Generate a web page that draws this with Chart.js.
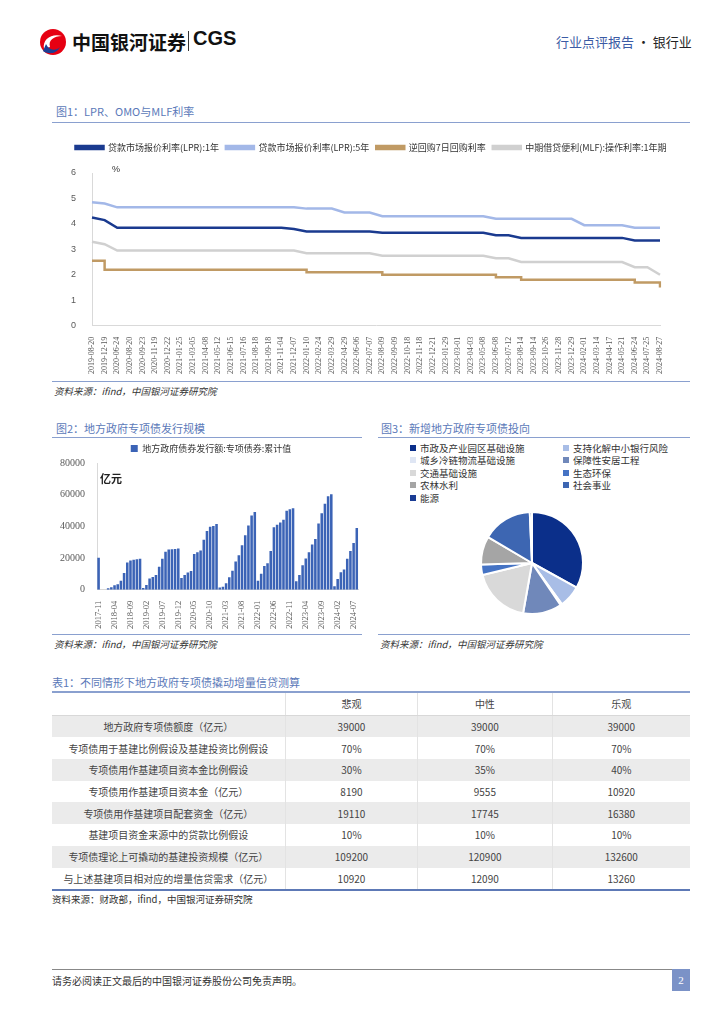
<!DOCTYPE html>
<html>
<head>
<meta charset="utf-8">
<script src="https://cdn.jsdelivr.net/npm/chart.js@4.4.1/dist/chart.umd.min.js"></script>
<style>
  body { margin: 0; width: 724px; height: 1024px; background: #fff; position: relative; overflow: hidden;
         font-family: "Noto Sans CJK SC", sans-serif; color: #333; }
  .abs { position: absolute; }
  .figtitle { font-size: 11px; color: #5b79b9; white-space: nowrap; }
  .rule { height: 0; border-top: 1.5px solid #8aa0cf; }
  .source { font-size: 9.5px; font-style: italic; color: #333; white-space: nowrap; }
  .box { position: absolute; }
  #pieLegend { font-size: 9.5px; color: #333; line-height: 12.4px; }
  #pieLegend .item { position: absolute; white-space: nowrap; }
  #pieLegend .sw { display: inline-block; width: 6px; height: 6px; margin-right: 4px; vertical-align: 1px; }
  table { border-collapse: collapse; font-size: 10px; color: #444; }
  td { height: 21.7px; padding: 0; text-align: center; border-left: 1px solid #e3e3e3; }
  td:first-child { border-left: none; }
  tr.gray td { background: #ebebeb; }
  tr.head td { border-bottom: 1px solid #d8d8d8; }
</style>
</head>
<body>

<!-- header -->
<svg class="abs" style="left:38px;top:27px" width="30" height="30" viewBox="0 0 30 30">
  <circle cx="15" cy="15" r="13" fill="#e60012"/>
  <path d="M6 22 C 4 12, 14 6, 24 9 C 16 9, 10 13, 12 20 Z" fill="#fff"/>
  <path d="M5 24 C 9 27, 18 28, 22 20 C 18 24, 11 24, 8 17 Z" fill="#1d3f95"/>
</svg>
<div class="abs" style="left:72px;top:28px;font-size:19px;font-weight:bold;color:#111;white-space:nowrap;">中国银河证券</div>
<div class="abs" style="left:188px;top:31px;width:1px;height:20px;background:#333;"></div>
<div class="abs" style="left:193px;top:27px;font-size:20px;font-weight:bold;color:#111;font-family:'Liberation Sans',sans-serif;">CGS</div>
<div class="abs" style="left:556px;top:32px;font-size:13px;white-space:nowrap;"><span style="color:#3b5ba5">行业点评报告</span><span style="color:#222"> · 银行业</span></div>

<!-- figure 1 -->
<div class="abs figtitle" style="left:56px;top:103px;">图1：LPR、OMO与MLF利率</div>
<div class="abs rule" style="left:52px;top:122px;width:638px;"></div>
<div class="box" style="left:52px;top:136px;width:638px;height:244px;"><canvas id="rateChart"></canvas></div>
<div class="abs rule" style="left:52px;top:381px;width:638px;"></div>
<div class="abs source" style="left:54px;top:384px;">资料来源：ifind，中国银河证券研究院</div>

<!-- figure 2 -->
<div class="abs figtitle" style="left:56px;top:420px;">图2：地方政府专项债发行规模</div>
<div class="abs rule" style="left:52px;top:437px;width:310px;"></div>
<div class="box" style="left:52px;top:442px;width:318px;height:190px;"><canvas id="bondChart"></canvas></div>
<div class="abs rule" style="left:52px;top:634px;width:310px;"></div>
<div class="abs source" style="left:54px;top:637px;">资料来源：ifind，中国银河证券研究院</div>

<!-- figure 3 -->
<div class="abs figtitle" style="left:381px;top:420px;">图3：新增地方政府专项债投向</div>
<div class="abs rule" style="left:378px;top:437px;width:312px;"></div>
<div id="pieLegend" class="abs" style="left:410px;top:442px;width:280px;height:70px;"></div>
<div class="box" style="left:378px;top:440px;width:312px;height:190px;"><canvas id="useChart"></canvas></div>
<div class="abs rule" style="left:378px;top:634px;width:312px;"></div>
<div class="abs source" style="left:380px;top:637px;">资料来源：ifind，中国银河证券研究院</div>

<!-- table 1 -->
<div class="abs figtitle" style="left:52px;top:674px;">表1：不同情形下地方政府专项债撬动增量信贷测算</div>
<div class="abs" style="left:52px;top:691px;width:638px;border-top:2px solid #8aa0cf;"></div>
<table id="calcTable" class="abs" style="left:52px;top:693px;width:638px;"></table>
<div class="abs" style="left:52px;top:889px;width:638px;border-top:2px solid #5d79b6;"></div>
<div class="abs source" style="left:52px;top:892px;font-style:normal;">资料来源：财政部，ifind，中国银河证券研究院</div>

<!-- footer -->
<div class="abs" style="left:52px;top:969px;width:620px;border-top:1px solid #888;"></div>
<div class="abs" style="left:52px;top:973px;font-size:10px;color:#333;white-space:nowrap;">请务必阅读正文最后的中国银河证券股份公司免责声明。</div>
<div class="abs" style="left:672px;top:969px;width:18px;height:22px;background:#7b92c7;color:#fff;font-size:11px;text-align:center;line-height:22px;font-family:'Liberation Serif',serif;">2</div>

<script>
// --- figure 1: policy rates ---
const rateDates = [
  "2019-08-20", "2019-12-19", "2020-06-24", "2020-08-20", "2020-09-23", "2020-11-19", "2020-12-22", "2021-01-25",
  "2021-03-05", "2021-04-08", "2021-05-12", "2021-06-15", "2021-07-16", "2021-08-18", "2021-09-18", "2021-11-04",
  "2021-12-07", "2022-01-10", "2022-02-24", "2022-03-29", "2022-04-29", "2022-06-06", "2022-07-07", "2022-08-09",
  "2022-09-09", "2022-10-18", "2022-11-18", "2022-12-21", "2023-01-29", "2023-03-01", "2023-04-03", "2023-05-08",
  "2023-06-08", "2023-07-12", "2023-08-14", "2023-09-14", "2023-10-26", "2023-11-28", "2023-12-29", "2024-02-01",
  "2024-03-14", "2024-04-17", "2024-05-21", "2024-06-24", "2024-07-25", "2024-08-27"
];
const lpr1y = [
  4.25, 4.15, 3.85, 3.85, 3.85, 3.85, 3.85, 3.85, 3.85, 3.85,
  3.85, 3.85, 3.85, 3.85, 3.85, 3.85, 3.80, 3.70, 3.70, 3.70,
  3.70, 3.70, 3.70, 3.65, 3.65, 3.65, 3.65, 3.65, 3.65, 3.65,
  3.65, 3.65, 3.55, 3.55, 3.45, 3.45, 3.45, 3.45, 3.45, 3.45,
  3.45, 3.45, 3.45, 3.35, 3.35, 3.35
];
const lpr5y = [
  4.85, 4.80, 4.65, 4.65, 4.65, 4.65, 4.65, 4.65, 4.65, 4.65,
  4.65, 4.65, 4.65, 4.65, 4.65, 4.65, 4.65, 4.60, 4.60, 4.60,
  4.45, 4.45, 4.45, 4.30, 4.30, 4.30, 4.30, 4.30, 4.30, 4.30,
  4.30, 4.30, 4.20, 4.20, 4.20, 4.20, 4.20, 4.20, 4.20, 3.95,
  3.95, 3.95, 3.95, 3.85, 3.85, 3.85
];
const omo7d = [
  2.55, 2.20, 2.20, 2.20, 2.20, 2.20, 2.20, 2.20, 2.20, 2.20,
  2.20, 2.20, 2.20, 2.20, 2.20, 2.20, 2.20, 2.10, 2.10, 2.10,
  2.10, 2.10, 2.10, 2.00, 2.00, 2.00, 2.00, 2.00, 2.00, 2.00,
  2.00, 2.00, 1.90, 1.90, 1.80, 1.80, 1.80, 1.80, 1.80, 1.80,
  1.80, 1.80, 1.80, 1.70, 1.70, 1.50
];
const mlf1y = [
  3.30, 3.20, 2.95, 2.95, 2.95, 2.95, 2.95, 2.95, 2.95, 2.95,
  2.95, 2.95, 2.95, 2.95, 2.95, 2.95, 2.95, 2.85, 2.85, 2.85,
  2.85, 2.85, 2.85, 2.75, 2.75, 2.75, 2.75, 2.75, 2.75, 2.75,
  2.75, 2.75, 2.65, 2.65, 2.50, 2.50, 2.50, 2.50, 2.50, 2.50,
  2.50, 2.50, 2.50, 2.30, 2.30, 2.00
];
const rateNames = ["贷款市场报价利率(LPR):1年", "贷款市场报价利率(LPR):5年", "逆回购7日回购利率", "中期借贷便利(MLF):操作利率:1年期"];

// --- figure 2: special bond issuance, cumulative per year ---
const bondMonths = [
  "2017-11", "2017-12",
  "2018-01", "2018-02", "2018-03", "2018-04", "2018-05", "2018-06", "2018-07", "2018-08", "2018-09", "2018-10", "2018-11", "2018-12",
  "2019-01", "2019-02", "2019-03", "2019-04", "2019-05", "2019-06", "2019-07", "2019-08", "2019-09", "2019-10", "2019-11", "2019-12",
  "2020-01", "2020-02", "2020-03", "2020-04", "2020-05", "2020-06", "2020-07", "2020-08", "2020-09", "2020-10", "2020-11", "2020-12",
  "2021-01", "2021-02", "2021-03", "2021-04", "2021-05", "2021-06", "2021-07", "2021-08", "2021-09", "2021-10", "2021-11", "2021-12",
  "2022-01", "2022-02", "2022-03", "2022-04", "2022-05", "2022-06", "2022-07", "2022-08", "2022-09", "2022-10", "2022-11", "2022-12",
  "2023-01", "2023-02", "2023-03", "2023-04", "2023-05", "2023-06", "2023-07", "2023-08", "2023-09", "2023-10", "2023-11", "2023-12",
  "2024-01", "2024-02", "2024-03", "2024-04", "2024-05", "2024-06", "2024-07", "2024-08"
];
const bondCum = [
  20200, null,
  null, 900, 1600, 2800, 3500, 5600, 10500, 17200, 18500, 18900, 19200, 19500,
  1100, 3000, 7000, 8000, 9300, 14500, 19500, 24000, 25400, 25600, 25700, 26000,
  7300, 9300, 10800, 11800, 22500, 23700, 24800, 31500, 37000, 39700, 40200, 41500,
  1300, 1800, 4000, 7800, 12000, 17800, 21800, 28000, 34300, 40500, 46800, 49000,
  5700, 10000, 15000, 16700, 24500, 39500, 41000, 42500, 44200, 49800, 50800, 51500,
  5300, 9200, 15500, 19700, 23700, 28500, 32000, 41800, 48300, 54200, 59000, 60200,
  2100, 6800, 11000, 12800, 19500, 24500, 29500, 39000
];
const bondName = "地方政府债券发行额:专项债券:累计值";

// --- figure 3: use of new special bonds (share, %) ---
const useNames = ["市政及产业园区基础设施", "支持化解中小银行风险", "城乡冷链物流基础设施", "保障性安居工程",
                  "交通基础设施", "生态环保", "农林水利", "社会事业", "能源"];
const useShare = [33.0, 7.0, 0.5, 12.3, 18.4, 3.3, 9.0, 15.8, 0.7];
const useColors = ["#0b2f8a", "#a8bde6", "#dfe6f4", "#7088ba", "#d9d9d9", "#4573c4", "#a5a5a5", "#3d66b2", "#1a3c94"];

// --- table 1 ---
const rowNames = [
  "地方政府专项债额度（亿元）",
  "专项债用于基建比例假设及基建投资比例假设",
  "专项债用作基建项目资本金比例假设",
  "专项债用作基建项目资本金（亿元）",
  "专项债用作基建项目配套资金（亿元）",
  "基建项目资金来源中的贷款比例假设",
  "专项债理论上可撬动的基建投资规模（亿元）",
  "与上述基建项目相对应的增量信贷需求（亿元）"
];
const scenarios = ["悲观", "中性", "乐观"];
const pessimistic = ["39000", "70%", "30%", "8190", "19110", "10%", "109200", "10920"];
const neutral = ["39000", "70%", "35%", "9555", "17745", "10%", "120900", "12090"];
const optimistic = ["39000", "70%", "40%", "10920", "16380", "10%", "132600", "13260"];

// --- small plugin for the unit text in the corner of a plot ---
const unitLabel = {
  id: "unitLabel",
  afterDraw(chart, args, opts) {
    const { ctx, chartArea } = chart;
    ctx.save();
    ctx.font = opts.font;
    ctx.fillStyle = opts.color || "#333";
    ctx.textBaseline = "top";
    ctx.fillText(opts.text, chartArea.left + opts.dx, chartArea.top + opts.dy);
    ctx.restore();
  }
};

// extra space under the legend
const legendGap = {
  id: "legendGap",
  beforeInit(chart) {
    const fit = chart.legend.fit;
    chart.legend.fit = function () {
      fit.bind(chart.legend)();
      this.height += 11;
    };
  }
};

Chart.defaults.font.family = "'Liberation Serif', 'Noto Sans CJK SC', serif";
Chart.defaults.color = "#595959";
Chart.defaults.animation = false;

// figure 1
const rateColors = ["#1a3a8f", "#a3b8e8", "#c09a64", "#d0d0d0"];
const rateSeries = [lpr1y, lpr5y, omo7d, mlf1y];
new Chart(document.getElementById("rateChart"), {
  type: "line",
  data: {
    labels: rateDates,
    datasets: rateSeries.map((s, i) => ({
      label: rateNames[i],
      data: s,
      borderColor: rateColors[i],
      backgroundColor: rateColors[i],
      borderWidth: 2.5,
      pointRadius: 0,
      stepped: i === 2 ? "before" : false,
      tension: 0
    }))
  },
  plugins: [unitLabel, legendGap],
  options: {
    responsive: true,
    maintainAspectRatio: false,
    layout: { padding: { bottom: 3 } },
    plugins: {
      legend: {
        labels: {
          boxWidth: 28, boxHeight: 3, padding: 7,
          font: { family: "'Noto Sans CJK SC'", size: 9 }, color: "#333"
        }
      },
      tooltip: { enabled: false },
      unitLabel: { text: "%", dx: 20, dy: -8, font: "9px 'Liberation Sans'", color: "#333" }
    },
    scales: {
      x: {
        grid: { display: false },
        border: { color: "#d9d9d9" },
        ticks: { autoSkip: false, maxRotation: 90, minRotation: 90, font: { size: 8 }, padding: 3 }
      },
      y: {
        min: 0, max: 6,
        grid: { display: false },
        border: { color: "#d9d9d9" },
        ticks: { stepSize: 1, font: { size: 9, family: "'Liberation Sans'" }, padding: 8 },
        afterFit(scale) { scale.width = 40; }
      },
      // empty right axis only to keep a margin on the right like the original
      spacer: {
        position: "right",
        grid: { display: false },
        border: { display: false },
        ticks: { display: false },
        afterFit(scale) { scale.width = 30; }
      }
    }
  }
});

// figure 2
new Chart(document.getElementById("bondChart"), {
  type: "bar",
  data: {
    labels: bondMonths,
    datasets: [{
      label: bondName,
      data: bondCum,
      backgroundColor: "#3b63b6",
      barPercentage: 0.8,
      categoryPercentage: 1
    }]
  },
  plugins: [unitLabel],
  options: {
    responsive: true,
    maintainAspectRatio: false,
    layout: { padding: 0 },
    plugins: {
      legend: {
        labels: {
          boxWidth: 7, boxHeight: 7, padding: 2,
          font: { family: "'Noto Sans CJK SC'", size: 9 }, color: "#333"
        }
      },
      tooltip: { enabled: false },
      unitLabel: { text: "亿元", dx: 3, dy: 10, font: "bold 11px 'Noto Sans CJK SC'", color: "#222" }
    },
    scales: {
      x: {
        grid: { display: false },
        border: { color: "#d9d9d9" },
        ticks: {
          autoSkip: false, maxRotation: 90, minRotation: 90, font: { size: 8.5 }, padding: 3,
          callback: (v, i) => (i % 5 === 0 ? bondMonths[i] : "")
        }
      },
      y: {
        min: 0, max: 80000,
        grid: { display: false },
        border: { color: "#d9d9d9" },
        ticks: { stepSize: 20000, font: { size: 10 }, padding: 4, callback: v => String(v) },
        afterFit(scale) { scale.width = 45; }
      }
    }
  }
});

// figure 3
new Chart(document.getElementById("useChart"), {
  type: "pie",
  data: {
    labels: useNames,
    datasets: [{ data: useShare, backgroundColor: useColors, borderColor: "#fff", borderWidth: 2 }]
  },
  options: {
    responsive: true,
    maintainAspectRatio: false,
    layout: { padding: { top: 71, bottom: 15, left: 100, right: 104 } },
    plugins: { legend: { display: false }, tooltip: { enabled: false } }
  }
});

// pie legend, two columns like the original
const pieLegend = document.getElementById("pieLegend");
useNames.forEach((name, i) => {
  const el = document.createElement("div");
  el.className = "item";
  el.style.left = (i % 2 === 0 ? 0 : 153) + "px";
  el.style.top = Math.floor(i / 2) * 12.4 + "px";
  el.innerHTML = `<span class="sw" style="background:${useColors[i]}"></span>${name}`;
  pieLegend.appendChild(el);
});

// table
const table = document.getElementById("calcTable");
const colW = [234, 132, 134, 138];
let html = `<tr class="head"><td style="width:${colW[0]}px"></td>` +
  scenarios.map((s, i) => `<td style="width:${colW[i + 1]}px">${s}</td>`).join("") + "</tr>";
rowNames.forEach((name, r) => {
  html += `<tr class="${r % 2 === 0 ? "gray" : ""}"><td>${name}</td><td>${pessimistic[r]}</td><td>${neutral[r]}</td><td>${optimistic[r]}</td></tr>`;
});
table.innerHTML = html;
</script>
</body>
</html>
